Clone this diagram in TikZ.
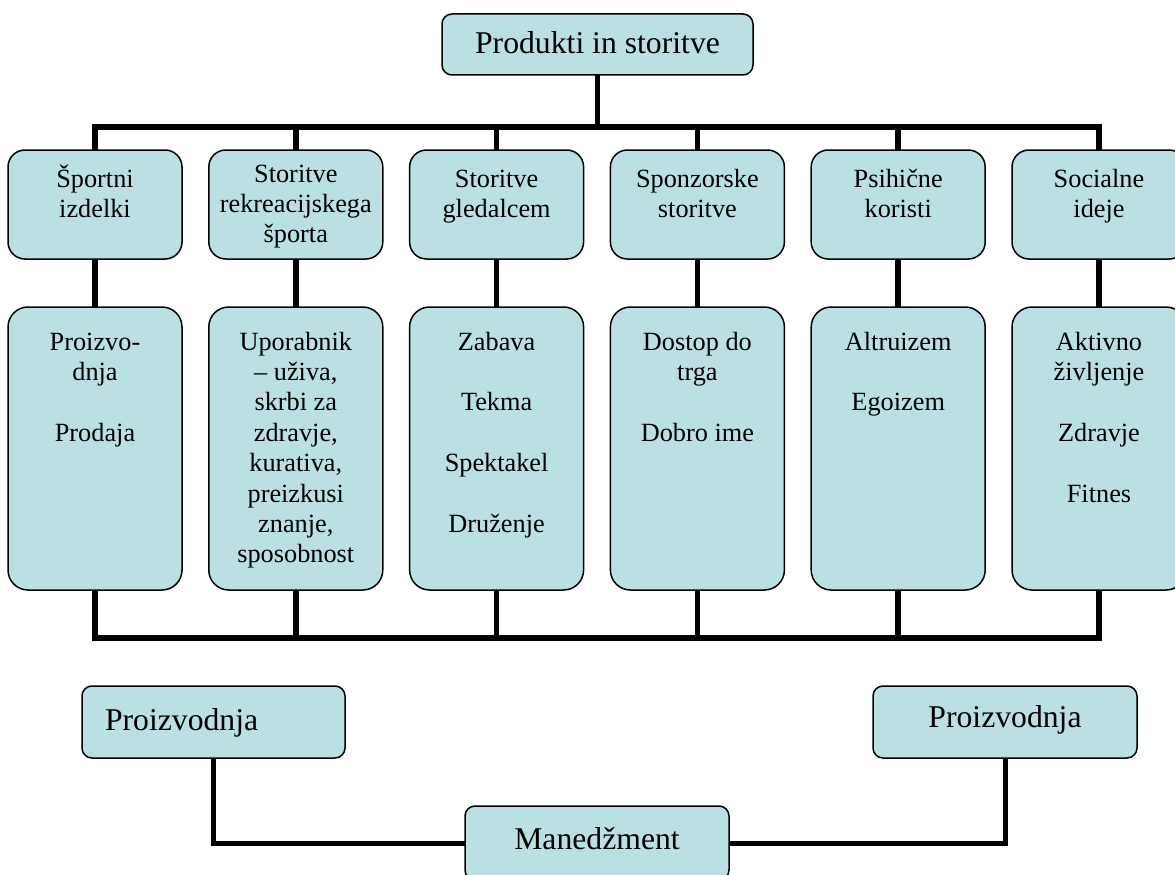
\documentclass[tikz,border=0pt]{standalone}
\usepackage{fontspec}
\setmainfont{Liberation Serif}
\usetikzlibrary{backgrounds}
\definecolor{boxfill}{RGB}{187,224,227}
\newcommand\rowfont{\fontsize{26.3pt}{30.4pt}\selectfont}
\newcommand\bigfont{\fontsize{31.7pt}{36pt}\selectfont}
\newcommand\rowA[2]{\parbox[c][109pt][t]{174pt}{\centering\rowfont\rule{0pt}{#1}#2}}
\newcommand\rowB[1]{\parbox[c][283pt][t]{174pt}{\centering\rowfont\rule{0pt}{43pt}#1}}
\tikzset{
  box/.style={draw=black, line width=1.5pt, fill=boxfill, inner sep=0pt, outer sep=0pt},
  rowa/.style={box, rounded corners=17pt, anchor=north},
  rowb/.style={box, rounded corners=20pt, anchor=north},
  lbl/.style={box, rounded corners=10pt, anchor=north west},
  conn/.style={draw=black, line width=5.5pt}
}
\begin{document}
\begin{tikzpicture}[x=1pt, y=-1pt]
\useasboundingbox (0,0) rectangle (1175,875);
\clip (0,0) rectangle (1175,875);

% top node
\node[lbl] (top) at (442,14) {\parbox[c][61pt][t]{311pt}{\centering\bigfont\rule{0pt}{39pt}Produkti in storitve}};

% first row
\node[rowa] (a1) at (95,150)    {\rowA{37pt}{Športni\\izdelki}};
\node[rowa] (a2) at (295.8,150) {\rowA{32pt}{Storitve\\rekreacijskega\\športa}};
\node[rowa] (a3) at (496.6,150) {\rowA{37pt}{Storitve\\gledalcem}};
\node[rowa] (a4) at (697.4,150) {\rowA{37pt}{Sponzorske\\storitve}};
\node[rowa] (a5) at (898.2,150) {\rowA{37pt}{Psihične\\koristi}};
\node[rowa] (a6) at (1099,150)  {\rowA{37pt}{Socialne\\ideje}};

% second row
\node[rowb] (b1) at (95,307)    {\rowB{Proizvo-\\dnja\\[30.4pt]Prodaja}};
\node[rowb] (b2) at (295.8,307) {\rowB{Uporabnik\\– uživa,\\skrbi za\\zdravje,\\kurativa,\\preizkusi\\znanje,\\sposobnost}};
\node[rowb] (b3) at (496.6,307) {\rowB{Zabava\\[30.4pt]Tekma\\[30.4pt]Spektakel\\[30.4pt]Druženje}};
\node[rowb] (b4) at (697.4,307) {\rowB{Dostop do\\trga\\[30.4pt]Dobro ime}};
\node[rowb] (b5) at (898.2,307) {\rowB{Altruizem\\[30.4pt]Egoizem}};
\node[rowb] (b6) at (1099,307)  {\rowB{Aktivno\\življenje\\[30.4pt]Zdravje\\[30.4pt]Fitnes}};

% bottom nodes
\node[lbl] (p1) at (82,686)  {\parbox[c][72pt][t]{263pt}{\bigfont\hspace*{23pt}\rule{0pt}{44pt}Proizvodnja}};
\node[lbl] (p2) at (873,686) {\parbox[c][72pt][t]{264pt}{\centering\bigfont\rule{0pt}{41pt}Proizvodnja}};
\node[lbl] (m)  at (465,806) {\parbox[c][74pt][t]{264pt}{\centering\bigfont\rule{0pt}{43pt}Manedžment}};

\coordinate (busT) at (0,127);
\coordinate (busB) at (0,638);

\begin{scope}[on background layer]
  \draw[conn] (top.south) -- (top.south |- busT);
  \draw[conn] (a1.north) -- (a1.north |- busT) -- (a6.north |- busT) -- (a6.north);
  \foreach \n in {a2,a3,a4,a5} \draw[conn] (\n.north) -- (\n.north |- busT);
  \foreach \k in {1,...,6} \draw[conn] (a\k.south) -- (b\k.north);
  \draw[conn] (b1.south) -- (b1.south |- busB) -- (b6.south |- busB) -- (b6.south);
  \foreach \n in {b2,b3,b4,b5} \draw[conn] (\n.south) -- (\n.south |- busB);
  \draw[conn, line width=5pt] (p1.south) |- (m.west);
  \draw[conn, line width=5pt] (p2.south) |- (m.east);
\end{scope}
\end{tikzpicture}
\end{document}
